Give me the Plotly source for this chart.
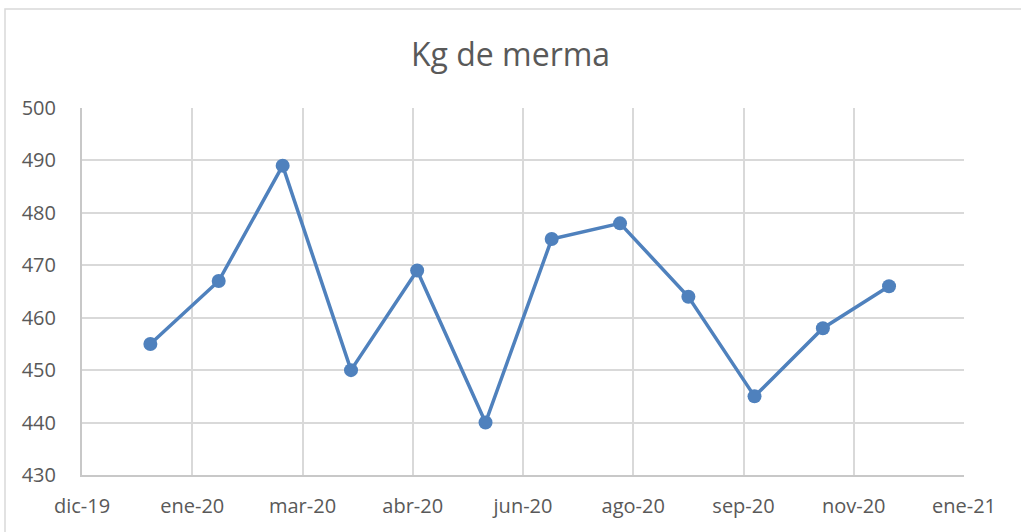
import plotly.graph_objects as go

# Monthly values (first day of each month, 2020)
months = ["2020-01-01", "2020-02-01", "2020-03-01", "2020-04-01", "2020-05-01", "2020-06-01",
          "2020-07-01", "2020-08-01", "2020-09-01", "2020-10-01", "2020-11-01", "2020-12-01"]
kg_merma = [455, 467, 489, 450, 469, 440, 475, 478, 464, 445, 458, 466]

# Excel date axis: major unit of 50 days
tick_dates = ["2019-12-01", "2020-01-20", "2020-03-10", "2020-04-29", "2020-06-18",
              "2020-08-07", "2020-09-26", "2020-11-15", "2021-01-04"]
tick_labels = ["dic-19", "ene-20", "mar-20", "abr-20", "jun-20",
               "ago-20", "sep-20", "nov-20", "ene-21"]

blue = '#4F81BD'
grey_txt = '#595959'

fig = go.Figure(go.Scatter(
    x=months,
    y=kg_merma,
    mode='lines+markers',
    line=dict(color=blue, width=3.5),
    marker=dict(color=blue, size=14),
))

fig.update_layout(
    title=dict(text="Kg de merma", x=0.5, xanchor='center', y=0.897, yanchor='middle',
               font=dict(family="Open Sans", size=32, color=grey_txt)),
    width=1021, height=532,
    margin=dict(l=82, r=57, t=108, b=57),
    plot_bgcolor='white', paper_bgcolor='white',
    showlegend=False,
    font=dict(family="Open Sans", size=20, color=grey_txt),
)
fig.update_xaxes(type='date', range=[tick_dates[0], tick_dates[-1]],
                 tickvals=tick_dates, ticktext=tick_labels,
                 ticks='outside', ticklen=12, tickcolor='white',
                 showgrid=True, gridcolor='#D9D9D9', gridwidth=1.5,
                 showline=True, linecolor='#C8C8C8', linewidth=2,
                 zeroline=False, tickfont=dict(size=20, color=grey_txt))
fig.update_yaxes(range=[430, 500], dtick=10, tick0=430,
                 ticks='outside', ticklen=20, tickcolor='white',
                 showgrid=True, gridcolor='#D9D9D9', gridwidth=1.5,
                 showline=True, linecolor='#C8C8C8', linewidth=2,
                 zeroline=False, tickfont=dict(size=20, color=grey_txt))

# chart area border
fig.add_shape(type='rect', xref='paper', yref='paper',
              x0=-0.0873, x1=1.2, y0=-0.3, y1=1.2698,
              line=dict(color='#D9D9D9', width=1.5), layer='below')

fig.write_html("out.html", config={'displayModeBar': False},
               post_script="document.body.style.margin='0';")
